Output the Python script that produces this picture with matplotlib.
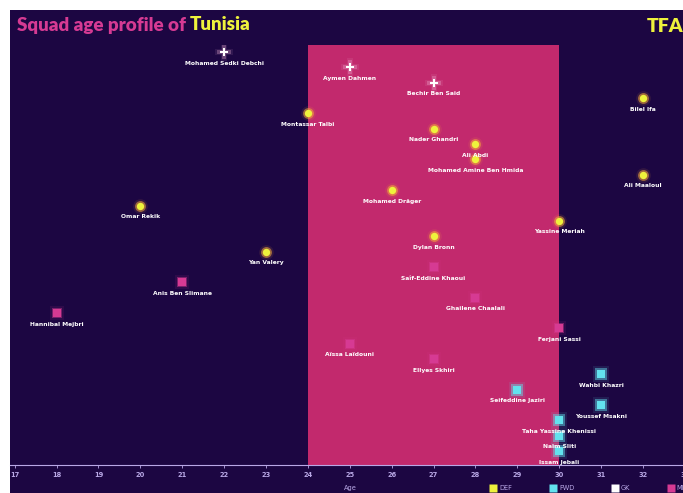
import matplotlib
matplotlib.use("Agg")
import matplotlib.pyplot as plt
from matplotlib.patches import Rectangle
from matplotlib.lines import Line2D


# ----------------------------
# Dados (ordem de cima para baixo no gráfico)
# ----------------------------
players = [
    "Mohamed Sedki Debchi", "Aymen Dahmen", "Bechir Ben Said",
    "Bilel Ifa", "Montassar Talbi", "Nader Ghandri", "Ali Abdi",
    "Mohamed Amine Ben Hmida", "Ali Maaloul", "Mohamed Dräger",
    "Omar Rekik", "Yassine Meriah", "Dylan Bronn", "Yan Valery",
    "Saîf-Eddine Khaoui", "Anis Ben Slimane", "Ghailene Chaalali",
    "Hannibal Mejbri", "Ferjani Sassi", "Aïssa Laïdouni", "Ellyes Skhiri",
    "Wahbi Khazri", "Seifeddine Jaziri", "Youssef Msakni",
    "Taha Yassine Khenissi", "Naïm Sliti", "Issam Jebali",
]
ages = [
    22, 25, 27,
    32, 24, 27, 28,
    28, 32, 26,
    20, 30, 27, 23,
    27, 21, 28,
    18, 30, 25, 27,
    31, 29, 31,
    30, 30, 30,
]
positions = [
    "GK", "GK", "GK",
    "DEF", "DEF", "DEF", "DEF",
    "DEF", "DEF", "DEF",
    "DEF", "DEF", "DEF", "DEF",
    "MID", "MID", "MID",
    "MID", "MID", "MID", "MID",
    "FWD", "FWD", "FWD",
    "FWD", "FWD", "FWD",
]
# eixo y = posição do jogador na lista (o primeiro fica no topo)
ranks = list(range(len(players), 0, -1))

age_ticks = list(range(17, 34))
peak_start, peak_end = 24, 30

BG = "#1c0642"
BAND = "#c2296d"
PINK = "#d63a93"
YELLOW = "#eef23c"
CYAN = "#62e2ee"
LAVENDER = "#b9a8e6"

# cor, marcador, tamanho, cor do brilho, alpha do brilho
STYLE = {
    "DEF": (YELLOW, "o", 28, "#f6a93a", 0.55),
    "FWD": (CYAN, "s", 36, CYAN, 0.45),
    "GK": ("#ffffff", "P", 40, "#f3b6d8", 0.3),
    "MID": (PINK, "s", 26, PINK, 0.45),
}


# ----------------------------
# Figura
# ----------------------------
W, H = 683, 493
fig = plt.figure(figsize=(W / 100, H / 100), dpi=100, facecolor="white")
fig.patches.append(Rectangle((10 / W, 0), 1, (H - 10) / H, transform=fig.transFigure,
                             facecolor=BG, edgecolor="none", zorder=-10))

ax = fig.add_axes([10 / W, 28 / H, 680 / W, 420 / H])
ax.set_facecolor(BG)
ax.set_xlim(16.89, 33.12)
ax.set_ylim(0.09, 27.46)

ax.axvspan(peak_start, peak_end, color=BAND, zorder=0, lw=0)

for pos, (color, marker, size, glow, galpha) in STYLE.items():
    xs = [a for a, p in zip(ages, positions) if p == pos]
    ys = [r for r, p in zip(ranks, positions) if p == pos]
    # brilho em volta do marcador
    ax.scatter(xs, ys, s=size * 4, color=glow, marker=marker, alpha=0.1, lw=0, zorder=2)
    ax.scatter(xs, ys, s=size * 2.2, color=glow, marker=marker, alpha=galpha, lw=0, zorder=2)
    ax.scatter(xs, ys, s=size, color=color, marker=marker, lw=0, zorder=3)

for name, a, r in zip(players, ages, ranks):
    ax.annotate(name, (a, r), xytext=(0, -8), textcoords="offset points",
                ha="center", va="center", fontsize=4.3, fontweight="bold",
                color="white", zorder=4)

for s in ["top", "left", "right"]:
    ax.spines[s].set_visible(False)
ax.spines["bottom"].set_color(LAVENDER)
ax.spines["bottom"].set_linewidth(0.8)
ax.set_yticks([])
ax.set_xticks(age_ticks)
ax.tick_params(axis="x", colors=LAVENDER, labelsize=4.8, length=2, width=0.6, pad=3)
for t in ax.get_xticklabels():
    t.set_fontweight("bold")
ax.set_xlabel("Age", color=LAVENDER, fontsize=4.8, labelpad=5)

# título
t1 = fig.text(17 / W, 1 - 25 / H, "Squad age profile of ", color=PINK,
              fontsize=13.5, fontweight="heavy", family="Lato", va="center", ha="left")
ax.annotate("Tunisia", xy=(1, 0.5), xycoords=t1, va="center", ha="left",
            color=YELLOW, fontsize=13.5, fontweight="heavy", family="Lato",
            annotation_clip=False)
fig.text(647 / W, 1 - 27 / H, "TFA", color=YELLOW, fontsize=14, fontweight="heavy",
         family="Lato", va="center", ha="left")

# legenda
handles = [Line2D([], [], marker="s", ls="none", markersize=6, color=c,
                  markeredgecolor="none", label=p)
           for p, (c, m, s, g, ga) in STYLE.items()]
leg = fig.legend(handles=handles, loc="center left", bbox_to_anchor=(484 / W, 1 - 488 / H),
                 ncol=4, frameon=False, fontsize=4.8, handletextpad=0.4,
                 columnspacing=5.6, handlelength=1)
for t in leg.get_texts():
    t.set_color(LAVENDER)

fig.savefig("out.png", dpi=100, facecolor=fig.get_facecolor())
